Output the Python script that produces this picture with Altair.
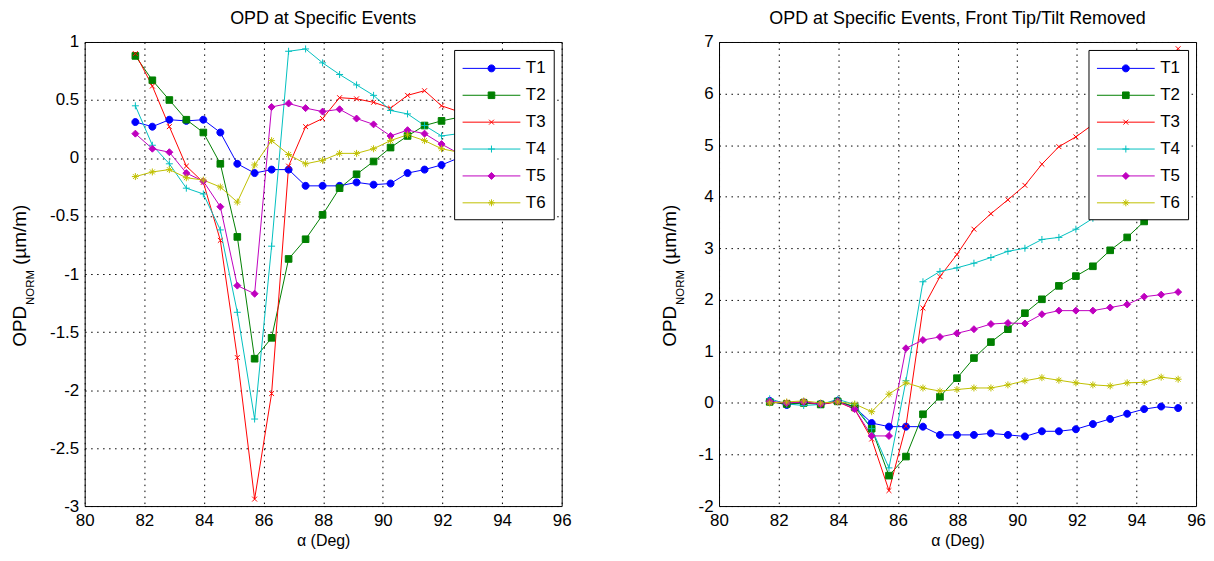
import altair as alt
import pandas as pd

FONT = "Liberation Sans"

# ---------------- data ----------------
alpha = [81.70, 82.27, 82.84, 83.41, 83.98, 84.55, 85.12, 85.70, 86.27, 86.84,
         87.41, 87.98, 88.55, 89.12, 89.69, 90.26, 90.83, 91.40, 91.97, 92.54,
         93.12, 93.69, 94.26, 94.83, 95.40]
series = ["T1", "T2", "T3", "T4", "T5", "T6"]
colors = ["#0000ff", "#008000", "#ff0000", "#00bfbf", "#bf00bf", "#bfbf00"]

left_T1 = [0.31, 0.27, 0.33, 0.32, 0.33, 0.22, -0.05, -0.13, -0.10, -0.10, -0.24, -0.24, -0.24,
           -0.21, -0.23, -0.22, -0.13, -0.10, -0.06, 0.00, 0.05, 0.08, 0.12, 0.15, 0.12]
left_T2 = [0.88, 0.67, 0.50, 0.33, 0.22, -0.05, -0.68, -1.73, -1.55, -0.87, -0.70, -0.49, -0.26,
           -0.14, -0.03, 0.09, 0.19, 0.28, 0.32, 0.35, 0.38, 0.40, 0.42, 0.45, 0.47]
left_T3 = [0.90, 0.62, 0.27, -0.07, -0.21, -0.71, -1.72, -2.94, -2.03, -0.07, 0.27, 0.34, 0.52,
           0.51, 0.48, 0.43, 0.54, 0.58, 0.45, 0.40, 0.38, 0.42, 0.50, 0.55, 0.60]
left_T4 = [0.45, 0.11, -0.05, -0.26, -0.31, -0.62, -1.33, -2.25, -0.76, 0.92, 0.94, 0.82, 0.72,
           0.63, 0.54, 0.41, 0.38, 0.28, 0.19, 0.21, 0.20, 0.25, 0.30, 0.32, 0.35]
left_T5 = [0.21, 0.08, 0.05, -0.13, -0.20, -0.42, -1.10, -1.17, 0.44, 0.47, 0.43, 0.40, 0.42,
           0.34, 0.29, 0.19, 0.24, 0.21, 0.12, 0.04, 0.05, 0.08, 0.10, 0.12, 0.15]
left_T6 = [-0.16, -0.12, -0.10, -0.17, -0.19, -0.25, -0.38, -0.06, 0.15, 0.03, -0.05, -0.02, 0.04,
           0.04, 0.08, 0.15, 0.20, 0.15, 0.08, 0.05, 0.06, 0.08, 0.10, 0.12, 0.12]

right_T1 = [0.04, -0.04, 0.01, -0.02, 0.04, -0.08, -0.39, -0.46, -0.46, -0.46, -0.62, -0.62, -0.62,
            -0.59, -0.62, -0.65, -0.55, -0.55, -0.51, -0.41, -0.31, -0.21, -0.12, -0.07, -0.10]
right_T2 = [0.02, -0.02, 0.00, -0.03, 0.03, -0.08, -0.50, -1.41, -1.04, -0.22, 0.12, 0.48, 0.87,
            1.18, 1.43, 1.74, 2.01, 2.27, 2.46, 2.65, 2.96, 3.21, 3.52, 3.85, 4.15]
right_T3 = [0.01, 0.00, 0.02, -0.03, 0.02, -0.12, -0.70, -1.70, -0.45, 1.84, 2.45, 2.88, 3.37,
            3.67, 3.94, 4.22, 4.63, 4.97, 5.16, 5.40, 5.70, 6.00, 6.25, 6.55, 6.87]
right_T4 = [0.08, -0.02, -0.05, -0.03, 0.07, -0.03, -0.50, -1.26, 0.43, 2.35, 2.55, 2.62, 2.71,
            2.82, 2.94, 3.00, 3.17, 3.21, 3.37, 3.58, 3.80, 4.00, 4.20, 4.40, 4.60]
right_T5 = [0.03, 0.00, 0.02, -0.02, 0.03, -0.12, -0.64, -0.64, 1.06, 1.22, 1.28, 1.35, 1.43,
            1.53, 1.55, 1.54, 1.72, 1.79, 1.79, 1.79, 1.85, 1.91, 2.06, 2.10, 2.15]
right_T6 = [0.00, 0.02, 0.04, 0.00, 0.02, -0.02, -0.17, 0.17, 0.39, 0.29, 0.23, 0.26, 0.29,
            0.29, 0.35, 0.43, 0.49, 0.44, 0.39, 0.35, 0.33, 0.39, 0.40, 0.50, 0.46]

x_ticks = [80, 82, 84, 86, 88, 90, 92, 94, 96]
left_y_ticks = [-3, -2.5, -2, -1.5, -1, -0.5, 0, 0.5, 1]
right_y_ticks = [-2, -1, 0, 1, 2, 3, 4, 5, 6, 7]


def long_df(cols):
    rows = []
    for name, vals in zip(series, cols):
        for a, v in zip(alpha, vals):
            rows.append({"alpha": a, "opd": v, "series": name})
    return pd.DataFrame(rows)


left_df = long_df([left_T1, left_T2, left_T3, left_T4, left_T5, left_T6])
right_df = long_df([right_T1, right_T2, right_T3, right_T4, right_T5, right_T6])

# ---------------- marker shapes ----------------
kinds = ["circle", "square", "x", "plus", "diamond", "star"]
kind_scale = [1.0, 0.95, 0.7, 1.0, 1.0, 1.0]


def f(v):
    return ("%.3f" % v).rstrip("0").rstrip(".")


def marker(kind, s):
    a, b = f(s), f(-s)
    if kind == "circle":
        return f"M{b},0A{a},{a},0,1,1,{a},0A{a},{a},0,1,1,{b},0Z"
    if kind == "square":
        return f"M{b},{b}H{a}V{a}H{b}Z"
    if kind == "x":
        return f"M{b},{b}L{a},{a}M{b},{a}L{a},{b}"
    if kind == "plus":
        return f"M{b},0H{a}M0,{b}V{a}"
    if kind == "diamond":
        return f"M0,{b}L{a},0L0,{a}L{b},0Z"
    c, d = f(s * 0.7), f(-s * 0.7)
    return f"M{b},0H{a}M0,{b}V{a}M{d},{d}L{c},{c}M{d},{c}L{c},{d}"


PT_SIZE = 49                      # 7 px for a unit path
pt_paths = [marker(k, s) for k, s in zip(kinds, kind_scale)]

LEG_SYM = 20                      # legend symbol box (px) -> unit = 10 px
LEG_HALF = 29                     # half length of the legend sample line (px)
leg_unit = LEG_SYM / 2.0
leg_paths = ["M%s,0H%s" % (f(-LEG_HALF / leg_unit), f(LEG_HALF / leg_unit))
             + marker(k, s * 3.5 / leg_unit) for k, s in zip(kinds, kind_scale)]


def make_legend():
    return alt.Legend(
        title=None, orient="top-right", offset=8, fillColor="white",
        strokeColor="black", padding=8, cornerRadius=0,
        labelFontSize=17, labelFont=FONT, labelColor="black",
        symbolSize=LEG_SYM * LEG_SYM, symbolStrokeWidth=1, symbolOpacity=1,
        symbolOffset=LEG_HALF - LEG_SYM / 2, labelOffset=24, rowPadding=8, zindex=1,
    )


W, H = 479, 466
one = pd.DataFrame({"k": [0]})


def panel(df, title, ydomain, yticks, title_x):
    x = alt.X("alpha:Q", scale=alt.Scale(domain=[80, 96], nice=False, padding=0, zero=False),
              axis=alt.Axis(values=x_ticks, title="α (Deg)", labelExpr="'' + datum.value"))
    y = alt.Y("opd:Q", scale=alt.Scale(domain=ydomain, nice=False, padding=0, zero=False),
              axis=alt.Axis(values=yticks, title=None, labelExpr="'' + datum.value"))
    cscale = alt.Scale(domain=series, range=colors)
    lines = alt.Chart(df).mark_line(strokeWidth=1, clip=True).encode(
        x=x, y=y,
        color=alt.Color("series:N", scale=cscale, legend=None),
        detail="series:N",
    )
    points = alt.Chart(df).mark_point(size=PT_SIZE, strokeWidth=1, opacity=1, filled=False, clip=True).encode(
        x=x, y=y,
        shape=alt.Shape("series:N", scale=alt.Scale(domain=series, range=pt_paths), legend=None),
        fill=alt.Fill("series:N", scale=cscale, legend=None),
        stroke=alt.Stroke("series:N", scale=cscale, legend=None),
    )
    # invisible layer that only feeds the legend (line + marker samples)
    leg = alt.Chart(df).mark_point(opacity=0, strokeWidth=1, filled=False).encode(
        x=x, y=y,
        shape=alt.Shape("series:N", scale=alt.Scale(domain=series, range=leg_paths), legend=make_legend()),
        fill=alt.Fill("series:N", scale=alt.Scale(domain=series, range=colors), legend=make_legend()),
        stroke=alt.Stroke("series:N", scale=alt.Scale(domain=series, range=colors), legend=make_legend()),
    )
    t_opd = alt.Chart(one).mark_text(text="OPD", angle=270, align="left", baseline="alphabetic",
                                     fontSize=19, font=FONT, color="black").encode(
        x=alt.value(title_x), y=alt.value(306))
    t_norm = alt.Chart(one).mark_text(text="NORM", angle=270, align="left", baseline="alphabetic",
                                      fontSize=11.5, font=FONT, color="black").encode(
        x=alt.value(title_x + 8), y=alt.value(264))
    t_unit = alt.Chart(one).mark_text(text="(µm/m)", angle=270, align="left", baseline="alphabetic",
                                      fontSize=19, font=FONT, color="black").encode(
        x=alt.value(title_x), y=alt.value(224))
    return alt.layer(lines, points, leg, t_opd, t_norm, t_unit).resolve_scale(
        shape="independent", fill="independent", stroke="independent"
    ).properties(
        width=W, height=H,
        title=alt.TitleParams(title, fontSize=18, fontWeight="normal", font=FONT,
                              anchor="middle", offset=5, color="black"),
    )


left = panel(left_df, "OPD at Specific Events", [-3, 1], left_y_ticks, -59)
right = panel(right_df, "OPD at Specific Events, Front Tip/Tilt Removed", [-2, 7], right_y_ticks, -43)

chart = alt.hconcat(left, right, spacing=89).resolve_scale(
    color="independent", fill="independent", stroke="independent", shape="independent",
    x="independent", y="independent",
).resolve_legend(fill="independent", stroke="independent", shape="independent").properties(
    padding={"left": 2, "top": 0, "right": 0, "bottom": 0},
    background="white",
).configure(font=FONT).configure_view(
    stroke="black", strokeWidth=1,
).configure_axis(
    grid=True, gridColor="black", gridDash=[1.5, 4.5], gridOpacity=1, gridWidth=1,
    domain=False, ticks=False, labelFlush=False, labelFontSize=17, labelColor="black", labelFont=FONT,
    titleFontSize=16, titleFontWeight="normal", titleColor="black", titleFont=FONT,
).configure_axisX(labelPadding=7, titlePadding=4).configure_axisY(labelPadding=6)

chart.save("out.html", embed_options={"renderer": "svg", "actions": False})
